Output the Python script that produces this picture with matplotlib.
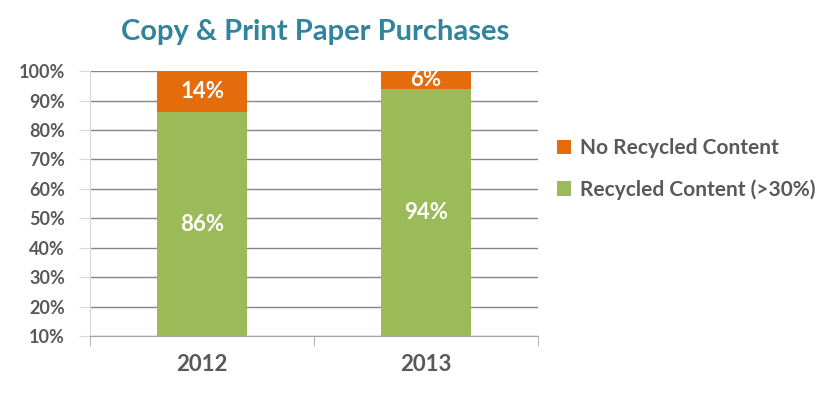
import matplotlib.pyplot as plt
import numpy as np

plt.rcParams['font.family'] = ['Lato', 'DejaVu Sans']

years = ['2012', '2013']
recycled = [86, 94]
no_recycled = [14, 6]
yticks = [10, 20, 30, 40, 50, 60, 70, 80, 90, 100]

green = '#9BBB59'
orange = '#E46C0A'
gray_txt = '#595959'

fig = plt.figure(figsize=(8.34, 3.93), dpi=100)
ax = fig.add_axes([0.108, 0.145, 0.537, 0.674])

x = np.arange(len(years))
b1 = ax.bar(x, recycled, width=0.40, color=green, label='Recycled Content (>30%)', zorder=3)
b2 = ax.bar(x, no_recycled, width=0.40, bottom=recycled, color=orange, label='No Recycled Content', zorder=3)

for i in range(len(years)):
    ax.text(x[i], (10 + recycled[i]) / 2, str(recycled[i]) + '%', ha='center', va='center',
            color='white', fontsize=16, fontweight='bold', zorder=4)
    ax.text(x[i], recycled[i] + no_recycled[i] / 2, str(no_recycled[i]) + '%', ha='center', va='center',
            color='white', fontsize=16, fontweight='bold', zorder=4)

ax.set_xlim(-0.5, 1.5)
ax.set_ylim(10, 100)
ax.set_yticks(yticks)
ax.set_yticklabels([str(v) + '%' for v in yticks])
ax.yaxis.grid(True, color='#868686', linewidth=1, zorder=0)
ax.set_axisbelow(True)

ax.set_xticks(x)
ax.set_xticklabels(years)
ax.set_xticks([-0.5, 0.5, 1.5], minor=True)
ax.tick_params(axis='x', which='major', length=0, pad=13, labelsize=16, labelcolor=gray_txt)
ax.tick_params(axis='x', which='minor', length=7, color='#A6A6A6', direction='out')
ax.tick_params(axis='y', length=8, color='#D9D9D9', pad=10, labelsize=13, labelcolor=gray_txt)
for lab in ax.get_xticklabels() + ax.get_yticklabels():
    lab.set_fontweight('bold')

for s in ['top', 'right']:
    ax.spines[s].set_visible(False)
ax.spines['left'].set_color('#D9D9D9')
ax.spines['bottom'].set_color('#A6A6A6')

fig.text(0.378, 0.918, 'Copy & Print Paper Purchases', ha='center', va='center',
         color='#31849B', fontsize=21, fontweight='bold')

leg = ax.legend(handles=[b2, b1], loc='center left', bbox_to_anchor=(1.0, 0.63),
                frameon=False, fontsize=15, handlelength=0.7, handleheight=0.7,
                handletextpad=0.4, labelspacing=1.0)
for t in leg.get_texts():
    t.set_color(gray_txt)
    t.set_fontweight('bold')

fig.savefig('out.png', dpi=100)
